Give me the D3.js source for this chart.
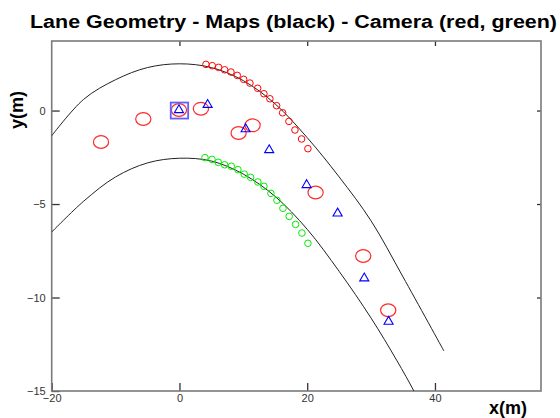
<!DOCTYPE html>
<html>
<head>
<meta charset="utf-8">
<script src="https://cdn.jsdelivr.net/npm/d3@7"></script>
<style>
  html, body { margin: 0; padding: 0; background: #fff; }
  svg { display: block; }
  text { font-family: "Liberation Sans", Arial, sans-serif; }
</style>
</head>
<body>
<svg id="chart" width="560" height="418"></svg>
<script>
// ---- data ----
const xTicks = [-20, 0, 20, 40];
const yTicks = [-15, -10, -5, 0];

// map lane borders (black)
const upperLaneX = [-20, -15, -10, -5, 0, 5, 10, 15, 20, 25, 30, 35, 41.4];
const upperLaneY = [-1.35, 0.6, 1.65, 2.3, 2.5, 2.3, 1.6, 0.35, -1.45, -3.55, -5.9, -8.9, -12.86];
const lowerLaneX = [-20, -15, -10, -5, 0, 5, 10, 15, 20, 25, 30, 34, 36.7, 38];
const lowerLaneY = [-6.5, -4.85, -3.55, -2.8, -2.55, -2.7, -3.4, -4.6, -6.35, -8.6, -11.1, -13.35, -15, -15.9];

// camera lane points (red = left, green = right)
const redCamX = [4.15, 5.13, 6.13, 7.07, 8.06, 9.05, 10.05, 11.03, 12.24, 13.22, 14.16, 15.21, 16.15, 17.14, 18.08, 19.12, 20.11];
const redCamY = [2.47, 2.40, 2.31, 2.18, 2.06, 1.88, 1.67, 1.47, 1.19, 0.90, 0.63, 0.26, -0.12, -0.58, -1.04, -1.52, -2.04];
const greenCamX = [3.99, 5.09, 6.08, 7.07, 8.11, 9.15, 10.14, 11.14, 12.28, 13.22, 14.32, 15.26, 16.20, 17.18, 18.18, 19.17, 20.11];
const greenCamY = [-2.52, -2.61, -2.77, -2.90, -2.98, -3.16, -3.40, -3.57, -3.82, -4.05, -4.43, -4.80, -5.23, -5.66, -6.09, -6.55, -7.10];

// large red markers
const bigRedX = [-12.28, -5.66, -0.08, 3.36, 9.26, 11.45, 21.31, 28.77, 32.68];
const bigRedY = [-1.68, -0.45, 0.03, 0.10, -1.20, -0.79, -4.38, -7.78, -10.68];

// blue triangles
const triX = [-0.08, 4.41, 10.36, 14.05, 19.91, 24.76, 28.93, 32.74];
const triY = [0.03, 0.31, -0.99, -2.11, -3.98, -5.50, -8.97, -11.29];

// blue square (ego)
const egoX = [0];
const egoY = [0];

// ---- layout ----
const mLeft = 51.7, mRight = 541, mTop = 41, mBottom = 391;
const x = d3.scaleLinear().domain([-20, 56.6]).range([mLeft, mRight]);
const y = d3.scaleLinear().domain([-15, 3.72]).range([mBottom, mTop]);

const svg = d3.select("#chart");

svg.append("defs").append("clipPath").attr("id", "clip")
  .append("rect").attr("x", mLeft).attr("y", mTop)
  .attr("width", mRight - mLeft).attr("height", mBottom - mTop);

// title
svg.append("text")
  .attr("x", 30).attr("y", 28)
  .attr("textLength", 527).attr("lengthAdjust", "spacingAndGlyphs")
  .style("font-size", "18px").style("font-weight", "bold")
  .attr("fill", "#000")
  .text("Lane Geometry - Maps (black) - Camera (red, green)");

// axes
const axisColor = "#7a7a7a";
function styleAxis(g) {
  g.select(".domain").remove();
  g.selectAll(".tick line").attr("stroke", "#333").attr("stroke-width", 1.3);
  g.selectAll(".tick text").attr("fill", "#333")
    .style("font-size", "11px").style("font-family", "'Liberation Sans', Arial, sans-serif");
}

svg.append("g").attr("transform", `translate(0,${mBottom})`)
  .call(d3.axisBottom(x).tickValues(xTicks).tickSize(-8).tickPadding(3).tickFormat(d3.format("d")))
  .call(styleAxis);
svg.append("g").attr("transform", `translate(${mLeft},0)`)
  .call(d3.axisLeft(y).tickValues(yTicks).tickSize(-8).tickPadding(6).tickFormat(d3.format("d")))
  .call(styleAxis);
svg.append("g").attr("transform", `translate(0,${mTop})`)
  .call(d3.axisTop(x).tickValues(xTicks.slice(1)).tickSize(-5).tickFormat(""))
  .call(styleAxis);
svg.append("g").attr("transform", `translate(${mRight},0)`)
  .call(d3.axisRight(y).tickValues(yTicks.slice(1)).tickSize(-4).tickFormat(""))
  .call(styleAxis);

// frame
svg.append("rect")
  .attr("x", mLeft).attr("y", mTop)
  .attr("width", mRight - mLeft).attr("height", mBottom - mTop)
  .attr("fill", "none").attr("stroke", axisColor).attr("stroke-width", 1.6);

// axis labels
svg.append("text")
  .attr("transform", `translate(23,110) rotate(-90)`)
  .attr("text-anchor", "middle")
  .style("font-size", "18px").style("font-weight", "bold")
  .attr("fill", "#000")
  .text("y(m)");
svg.append("text")
  .attr("x", 508).attr("y", 414)
  .attr("text-anchor", "middle")
  .style("font-size", "18px").style("font-weight", "bold")
  .attr("fill", "#000")
  .text("x(m)");

const plot = svg.append("g").attr("clip-path", "url(#clip)");

// lane lines
const line = d3.line().x(d => x(d[0])).y(d => y(d[1])).curve(d3.curveCatmullRom.alpha(0.5));
plot.append("path").datum(d3.zip(upperLaneX, upperLaneY))
  .attr("d", line).attr("fill", "none").attr("stroke", "#222").attr("stroke-width", 1);
plot.append("path").datum(d3.zip(lowerLaneX, lowerLaneY))
  .attr("d", line).attr("fill", "none").attr("stroke", "#222").attr("stroke-width", 1);

// camera points
plot.selectAll("circle.red").data(d3.zip(redCamX, redCamY)).join("circle")
  .attr("class", "red")
  .attr("cx", d => x(d[0])).attr("cy", d => y(d[1])).attr("r", 3.3)
  .attr("fill", "none").attr("stroke", "#ff0000").attr("stroke-width", 1);
plot.selectAll("circle.green").data(d3.zip(greenCamX, greenCamY)).join("circle")
  .attr("class", "green")
  .attr("cx", d => x(d[0])).attr("cy", d => y(d[1])).attr("r", 3.3)
  .attr("fill", "none").attr("stroke", "#00ee00").attr("stroke-width", 1);

// big red ellipses
plot.selectAll("ellipse.big").data(d3.zip(bigRedX, bigRedY)).join("ellipse")
  .attr("class", "big")
  .attr("cx", d => x(d[0])).attr("cy", d => y(d[1])).attr("rx", 7.6).attr("ry", 6.4)
  .attr("fill", "none").attr("stroke", "#ff2a2a").attr("stroke-width", 1.2);

// ego square
plot.selectAll("rect.ego").data(d3.zip(egoX, egoY)).join("rect")
  .attr("class", "ego")
  .attr("x", d => x(d[0]) - 8.7).attr("y", d => y(d[1]) - 8)
  .attr("width", 17.4).attr("height", 16)
  .attr("fill", "none").attr("stroke", "#6060ff").attr("stroke-width", 1.8);

// blue triangles
const tri = d3.symbol(d3.symbolTriangle, 36);
plot.selectAll("path.tri").data(d3.zip(triX, triY)).join("path")
  .attr("class", "tri")
  .attr("transform", d => `translate(${x(d[0])},${y(d[1])})`)
  .attr("d", tri)
  .attr("fill", "none").attr("stroke", "#0000ff").attr("stroke-width", 1.1);
</script>
</body>
</html>
